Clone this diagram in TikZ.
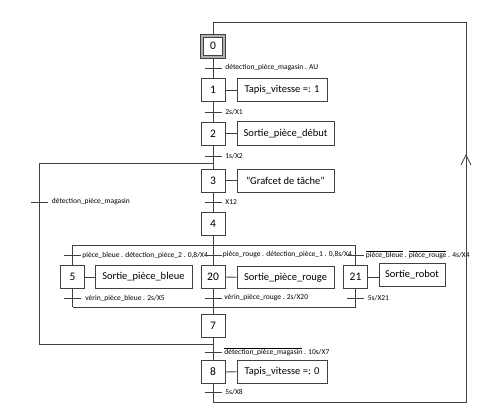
\documentclass[tikz,border=0pt]{standalone}
\usepackage{fontspec}
\setmainfont{Carlito}
\newcommand\ovl[1]{$\overline{\mbox{#1}}$}
\begin{document}
\begin{tikzpicture}[x=1pt,y=-1pt,line width=0.8pt,
  ln/.style={draw=black!75},
  stepbox/.style={draw=black!75,fill=white,minimum width=24pt,minimum height=23pt,inner sep=0pt,font=\fontsize{11.5}{12}\selectfont},
  actbox/.style={draw=black!75,minimum height=23pt,inner sep=0pt,font=\fontsize{10.5}{12}\selectfont},
  lbl/.style={anchor=west,inner sep=0pt,font=\fontsize{7.5}{8}\selectfont}]
\useasboundingbox (0,0) rectangle (491,418);
\newcommand\trans[5]{%
  \coordinate (#1) at (#2,#3);
  \draw[ln] ([xshift=-8.5pt]#1) -- ([xshift=8.5pt]#1);
  \node[lbl] (#1l) at ([xshift=#5pt]#1) {#4};}
% steps
\node[stepbox,minimum width=25pt,minimum height=24pt,fill=black!30] (s0) at (213,46) {};
\node[stepbox,minimum width=19pt,minimum height=18pt] (s0i) at (s0) {0};
\node[stepbox] (s1) at (213,90) {1};
\node[stepbox] (s2) at (213,133.5) {2};
\node[stepbox] (s3) at (213,180.5) {3};
\node[stepbox] (s4) at (213,223.5) {4};
\node[stepbox] (s5) at (72.5,277) {5};
\node[stepbox] (s20) at (213,277) {20};
\node[stepbox] (s21) at (355.5,277) {21};
\node[stepbox] (s7) at (213,326) {7};
\node[stepbox] (s8) at (213,372) {8};
% actions
\node[actbox,minimum width=90pt] (a1) at (282,90) {Tapis\_vitesse =: 1};
\node[actbox,minimum width=97pt,minimum height=24pt] (a2) at (285.5,133.5) {Sortie\_pièce\_début};
\node[actbox,minimum width=97pt] (a3) at (285.5,180.5) {"Grafcet de tâche"};
\node[actbox,minimum width=97pt] (a5) at (143.5,277) {Sortie\_pièce\_bleue};
\node[actbox,minimum width=97pt,minimum height=22pt] (a20) at (285.5,277.5) {Sortie\_pièce\_rouge};
\node[actbox,minimum width=66pt,minimum height=23.5pt] (a21) at (412,275) {Sortie\_robot};
\node[actbox,minimum width=90pt] (a8) at (282,371.5) {Tapis\_vitesse =: 0};
\foreach \s/\a in {s1/a1,s2/a2,s3/a3,s5/a5,s20/a20,s8/a8}{\draw[ln] (\s) -- (\a);}
\draw[ln] (s21.east) -- (s21.east -| a21.west);
% main chain
\draw[ln] (s0) -- (s1);
\draw[ln] (s1) -- (s2);
\draw[ln] (s2) -- (s3);
\draw[ln] (s3) -- (s4);
\draw[ln] (s4) -- (s20);
\draw[ln] (s20) -- (s7);
\draw[ln] (s7) -- (s8);
% divergence / convergence OR
\coordinate (dL) at (72.5,245); \coordinate (dR) at (355.5,245);
\coordinate (cL) at (72.5,307); \coordinate (cR) at (355.5,307);
\draw[ln] (dL) -- (dR);
\draw[ln] (cL) -- (cR);
\draw[ln] (dL) -- (s5);
\draw[ln] (s5) -- (cL);
\draw[ln] (dR) -- (s21);
\draw[ln] (s21) -- (cR);
% left loop
\coordinate (lt) at (213,163); \coordinate (ltl) at (39,163);
\coordinate (lbl) at (39,344); \coordinate (lb) at (213,344);
\draw[ln] (lt) -- (ltl) -- (lbl) -- (lb);
% outer return loop
\coordinate (tl) at (213,22); \coordinate (tr) at (466,22);
\coordinate (br) at (466,402); \coordinate (bl) at (213,402);
\draw[ln] (s8) -- (bl) -- (br) -- (tr) -- (tl) -- (s0);
\coordinate (arr) at (466,155);
\draw[ln] ([shift={(-5,10)}]arr) -- (arr) -- ([shift={(5,10)}]arr);
% transitions
\trans{t0}{213}{68}{détection\_pièce\_magasin . AU}{12}
\trans{t1}{213}{112}{2s/X1}{12}
\trans{t2}{213}{156}{1s/X2}{12}
\trans{t3}{213}{202}{X12}{12}
\trans{tL}{39}{202}{détection\_pièce\_magasin}{12.5}
\trans{t5a}{72.5}{255}{pièce\_bleue . détection\_pièce\_2 . 0,8/X4}{9.5}
\trans{t20a}{213}{255}{pièce\_rouge . détection\_pièce\_1 . 0,8s/X4}{9.5}
\trans{t21a}{355.5}{255}{\ovl{pièce\_bleue} . \ovl{pièce\_rouge} . 4s/X4}{10}
\trans{t5b}{72.5}{298}{vérin\_pièce\_bleue . 2s/X5}{12.5}
\trans{t20b}{213}{298}{vérin\_pièce\_rouge . 2s/X20}{11}
\trans{t21b}{355.5}{298}{5s/X21}{12}
\trans{t7}{213}{352}{\ovl{détection\_pièce\_magasin} . 10s/X7}{11}
\trans{t8}{213}{392}{5s/X8}{12}
\end{tikzpicture}
\end{document}
